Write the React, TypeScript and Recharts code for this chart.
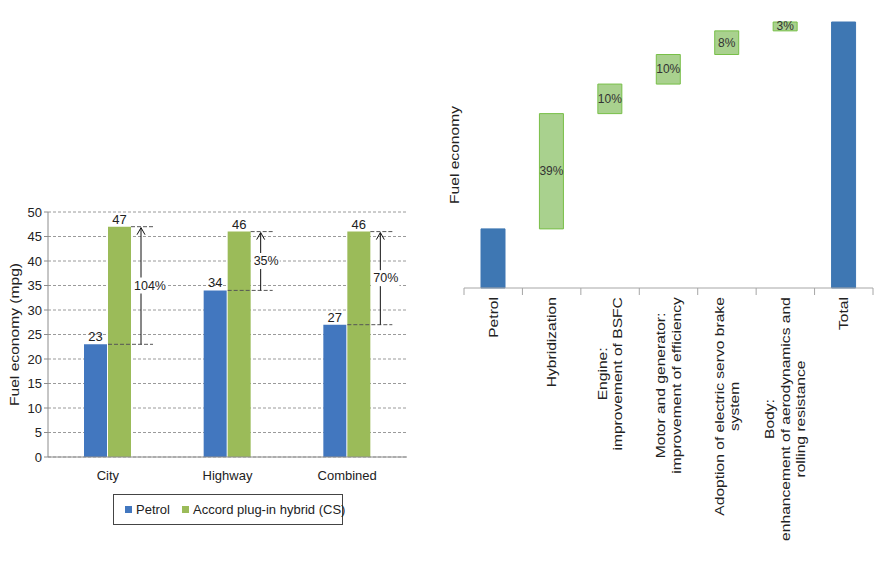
import React from "react";
import { BarChart, Bar, XAxis, YAxis, CartesianGrid, LabelList, Legend, Cell, Label } from "recharts";

const FONT = "'Liberation Sans', Arial, sans-serif";

// left panel: mpg by driving cycle
const cycles = ["City", "Highway", "Combined"];
const petrolMpg = [23, 34, 27];
const hybridMpg = [47, 46, 46];
const gainLabels = ["104%", "35%", "70%"];
const mpgTicks = [0, 5, 10, 15, 20, 25, 30, 35, 40, 45, 50];
const seriesNames = ["Petrol", "Accord plug-in hybrid (CS)"];

// right panel: waterfall of contributions
const steps = [
  "Petrol",
  "Hybridization",
  "Engine:\nimprovement of BSFC",
  "Motor and generator:\nimprovement of efficiency",
  "Adoption of electric servo brake\nsystem",
  "Body:\nenhancement of aerodynamics and\nrolling resistance",
  "Total",
];
const stepValues = [20, 39, 10, 10, 8, 3, 90];
const stepKinds = ["total", "delta", "delta", "delta", "delta", "delta", "total"];

const BLUE = "#4277bf";
const GREEN = "#9bbb59";
const W_BLUE = "#3e77b3";
const W_GREEN = "#a9d18e";
const W_GREEN_EDGE = "#78bf48";

const mpgData = cycles.map((c, i) => ({ cycle: c, petrol: petrolMpg[i], hybrid: hybridMpg[i] }));

let running = 0;
const stepData = steps.map((s, i) => {
  const isDelta = stepKinds[i] === "delta";
  const base = isDelta ? running : 0;
  running = isDelta ? running + stepValues[i] : stepValues[i];
  return { step: s, base, value: stepValues[i] };
});

let measureCtx: CanvasRenderingContext2D | null = null;
function textWidth(s: string, font: string) {
  if (!measureCtx) measureCtx = document.createElement("canvas").getContext("2d");
  if (!measureCtx) return s.length * 7;
  measureCtx.font = font;
  return measureCtx.measureText(s).width;
}

// rotated axis title, stretched along its length like the source image
function AxisTitle({ viewBox, text, dx }: any) {
  const cx = viewBox.x + dx;
  const cy = viewBox.y + viewBox.height / 2;
  return (
    <text
      transform={`translate(${cx}, ${cy}) rotate(-90) scale(1.25, 1)`}
      textAnchor="middle"
      dominantBaseline="central"
      fontSize={12.5}
      fill="#222"
      fontFamily={FONT}
    >
      {text}
    </text>
  );
}

function GainMarker(props: any) {
  const { x, y, width, height, value, index } = props;
  const per = height / value;
  const low = y + height - petrolMpg[index] * per;
  const right = x + width;
  const arrowX = right + 10;
  const endX = right + 22;
  const midY = (y + low) / 2;
  const label = gainLabels[index];
  const lw = textWidth(label, `12.5px ${FONT}`);
  return (
    <g>
      <line x1={x} y1={low} x2={endX} y2={low} stroke="#555" strokeDasharray="4 2" />
      <line x1={right} y1={y} x2={endX} y2={y} stroke="#555" strokeDasharray="4 2" />
      <line x1={arrowX} y1={low} x2={arrowX} y2={y + 1} stroke="#111" />
      <polyline
        points={`${arrowX - 4},${y + 8} ${arrowX},${y + 1} ${arrowX + 4},${y + 8}`}
        fill="none"
        stroke="#111"
      />
      <rect x={arrowX - 8} y={midY - 8} width={lw + 2} height={16} fill="#fff" />
      <text x={arrowX - 7} y={midY} dominantBaseline="central" fontSize={12.5} fill="#222" fontFamily={FONT}>
        {label}
      </text>
    </g>
  );
}

function StepTick(props: any) {
  const { x, y, payload, visibleTicksCount } = props;
  const band = (props.width || 409) / (visibleTicksCount || steps.length);
  const lines = String(payload.value).split("\n");
  const widest = Math.max(...lines.map((l) => textWidth(l, `12.5px ${FONT}`)));
  const cy = y + 9 + (widest * 1.25) / 2;
  const isLast = props.index === (visibleTicksCount || steps.length) - 1;
  return (
    <g>
      <line x1={x - band / 2} y1={y} x2={x - band / 2} y2={y + 7} stroke="#a6a6a6" />
      {isLast && <line x1={x + band / 2} y1={y} x2={x + band / 2} y2={y + 7} stroke="#a6a6a6" />}
      {lines.map((l, i) => (
        <text
          key={i}
          transform={`translate(${x + (i - (lines.length - 1) / 2) * 15.5}, ${cy}) rotate(-90) scale(1.25, 1)`}
          textAnchor="middle"
          dominantBaseline="central"
          fontSize={12.5}
          fill="#222"
          fontFamily={FONT}
        >
          {l}
        </text>
      ))}
    </g>
  );
}

function StepLabel(props: any) {
  const { x, y, width, height, value, index } = props;
  if (stepKinds[index] !== "delta") return null;
  return (
    <text
      x={x + width / 2}
      y={y + height / 2}
      textAnchor="middle"
      dominantBaseline="central"
      fontSize={12}
      fill="#333"
      fontFamily={FONT}
    >
      {`${value}%`}
    </text>
  );
}

function MpgLegend({ payload }: any) {
  const items = [...(payload || [])].sort(
    (a: any, b: any) => seriesNames.indexOf(a.value) - seriesNames.indexOf(b.value)
  );
  return (
    <div
      style={{
        boxSizing: "border-box",
        width: 230,
        height: 31,
        border: "1px solid #444",
        display: "flex",
        alignItems: "center",
        paddingLeft: 11,
        fontSize: 13,
        color: "#222",
        fontFamily: FONT,
        background: "#fff",
        whiteSpace: "nowrap",
      }}
    >
      {items.map((p: any) => (
        <span key={p.value} style={{ display: "flex", alignItems: "center", marginRight: 12 }}>
          <span style={{ width: 7, height: 7, background: p.color, marginRight: 4, display: "inline-block" }} />
          {p.value}
        </span>
      ))}
    </div>
  );
}

export default function App() {
  return (
    <div style={{ position: "absolute", left: 0, top: 0, width: 881, height: 563, background: "#fff", fontFamily: FONT }}>
      <div style={{ position: "absolute", left: 0, top: 0 }}>
        <BarChart
          width={420}
          height={540}
          data={mpgData}
          margin={{ top: 212, right: 13, bottom: 53, left: 0 }}
          barGap={1}
        >
          <CartesianGrid vertical={false} stroke="#9a9a9a" strokeDasharray="3 2" />
          <XAxis
            dataKey="cycle"
            height={30}
            tickLine={false}
            axisLine={{ stroke: "#8c8c8c" }}
            tick={{ fontSize: 13, fill: "#222" }}
            tickMargin={8}
          />
          <YAxis
            domain={[0, 50]}
            ticks={mpgTicks}
            interval={0}
            width={48}
            tickSize={4}
            tickMargin={2}
            axisLine={{ stroke: "#8c8c8c" }}
            tickLine={{ stroke: "#8c8c8c" }}
            tick={{ fontSize: 13, fill: "#222" }}
          >
            <Label content={(p: any) => <AxisTitle viewBox={p.viewBox} text="Fuel economy (mpg)" dx={15} />} />
          </YAxis>
          <Legend
            verticalAlign="middle"
            align="center"
            layout="horizontal"
            wrapperStyle={{ left: 113, top: 494, width: 230 }}
            content={<MpgLegend />}
          />
          <Bar dataKey="petrol" name={seriesNames[0]} fill={BLUE} barSize={23} isAnimationActive={false}>
            <LabelList dataKey="petrol" position="top" offset={3} fontSize={13} fill="#222" />
          </Bar>
          <Bar dataKey="hybrid" name={seriesNames[1]} fill={GREEN} barSize={23} isAnimationActive={false}>
            <LabelList dataKey="hybrid" position="top" offset={3} fontSize={13} fill="#222" />
            <LabelList dataKey="hybrid" content={<GainMarker />} />
          </Bar>
        </BarChart>
      </div>

      <div style={{ position: "absolute", left: 440, top: 0 }}>
        <BarChart width={441} height={563} data={stepData} margin={{ top: 22, right: 8, bottom: 0, left: 0 }}>
          <XAxis
            dataKey="step"
            height={275}
            interval={0}
            tickSize={0}
            tickMargin={0}
            tickLine={false}
            axisLine={{ stroke: "#a6a6a6" }}
            tick={<StepTick />}
          />
          <YAxis domain={[0, 90]} width={24} axisLine={false} tickLine={false} tick={false}>
            <Label content={(p: any) => <AxisTitle viewBox={p.viewBox} text="Fuel economy" dx={15} />} />
          </YAxis>
          <Bar dataKey="base" stackId="w" fill="transparent" barSize={24} isAnimationActive={false} />
          <Bar dataKey="value" stackId="w" barSize={24} isAnimationActive={false}>
            {stepData.map((d, i) => (
              <Cell
                key={d.step}
                fill={stepKinds[i] === "delta" ? W_GREEN : W_BLUE}
                stroke={stepKinds[i] === "delta" ? W_GREEN_EDGE : W_BLUE}
              />
            ))}
            <LabelList dataKey="value" content={<StepLabel />} />
          </Bar>
        </BarChart>
      </div>
    </div>
  );
}
